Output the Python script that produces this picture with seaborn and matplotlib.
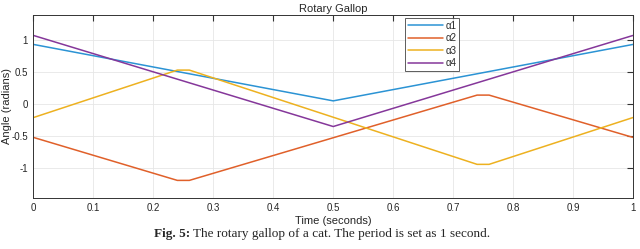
import matplotlib
matplotlib.use("Agg")
import matplotlib.pyplot as plt
import seaborn as sns
import pandas as pd

# valores (tempo em s, ângulo em rad)
t_a1 = [0, 0.5, 1]
a1 = [0.93, 0.05, 0.93]
t_a2 = [0, 0.24, 0.26, 0.74, 0.76, 1]
a2 = [-0.52, -1.19, -1.19, 0.14, 0.14, -0.52]
t_a3 = [0, 0.24, 0.26, 0.74, 0.76, 1]
a3 = [-0.21, 0.53, 0.53, -0.94, -0.94, -0.21]
t_a4 = [0, 0.5, 1]
a4 = [1.07, -0.35, 1.07]

series = {"α1": (t_a1, a1), "α2": (t_a2, a2), "α3": (t_a3, a3), "α4": (t_a4, a4)}
df = pd.concat(
    [pd.DataFrame({"t": t, "ang": v, "serie": nome}) for nome, (t, v) in series.items()],
    ignore_index=True,
)

sns.set_style("whitegrid")
plt.rcParams["font.family"] = ["Liberation Sans", "DejaVu Sans"]

cores = ["#2b93d4", "#e0602a", "#edb120", "#85379a"]

fig = plt.figure(figsize=(6.4, 2.49), dpi=100)
ax = fig.add_axes([0.0523, 0.206, 0.9367, 0.734])
sns.lineplot(data=df, x="t", y="ang", hue="serie", palette=cores, ax=ax,
             linewidth=1.1, sort=False, estimator=None)

ax.set_xlim(0, 1)
ax.set_ylim(-1.46, 1.39)
ax.set_xticks([i / 10 for i in range(11)])
ax.set_xticklabels(["0", "0.1", "0.2", "0.3", "0.4", "0.5", "0.6", "0.7", "0.8", "0.9", "1"])
ax.set_yticks([-1, -0.5, 0, 0.5, 1])
ax.set_yticklabels(["-1", "-0.5", "0", "0.5", "1"])
ax.tick_params(axis="both", labelsize=7, direction="in", length=4, color="#333333",
               top=True, right=True, pad=4)
ax.grid(True, color="#e6e6e6", linewidth=0.6)
for s in ax.spines.values():
    s.set_color("#333333")
    s.set_linewidth(0.7)

ax.set_title("Rotary Gallop", fontsize=8, pad=2)
ax.set_xlabel("Time (seconds)", fontsize=8, labelpad=2)
ax.set_ylabel("Angle (radians)", fontsize=8)
ax.yaxis.set_label_coords(-0.035, 0.5)

leg = ax.legend(loc="upper left", bbox_to_anchor=(0.616, 0.995), fontsize=7, handlelength=3.6,
                frameon=True, fancybox=False, edgecolor="#333333", borderpad=0.3,
                labelspacing=0.25, handletextpad=0.3, borderaxespad=0.2)
leg.get_frame().set_linewidth(0.7)

# legenda da figura: parte em negrito + resto
fig.canvas.draw()
r = fig.canvas.get_renderer()
t1 = fig.text(0, 0.035, "Fig. 5: ", fontsize=9.5, fontweight="bold",
              family="Liberation Serif", va="bottom")
t2 = fig.text(0, 0.035, "The rotary gallop of a cat. The period is set as 1 second.", fontsize=9.5,
              family="Liberation Serif", va="bottom")
w1 = t1.get_window_extent(r).width
w2 = t2.get_window_extent(r).width
x0 = 322 - (w1 + w2) / 2
t1.set_x(x0 / 640)
t2.set_x((x0 + w1) / 640)

fig.savefig("out.png", dpi=100)
